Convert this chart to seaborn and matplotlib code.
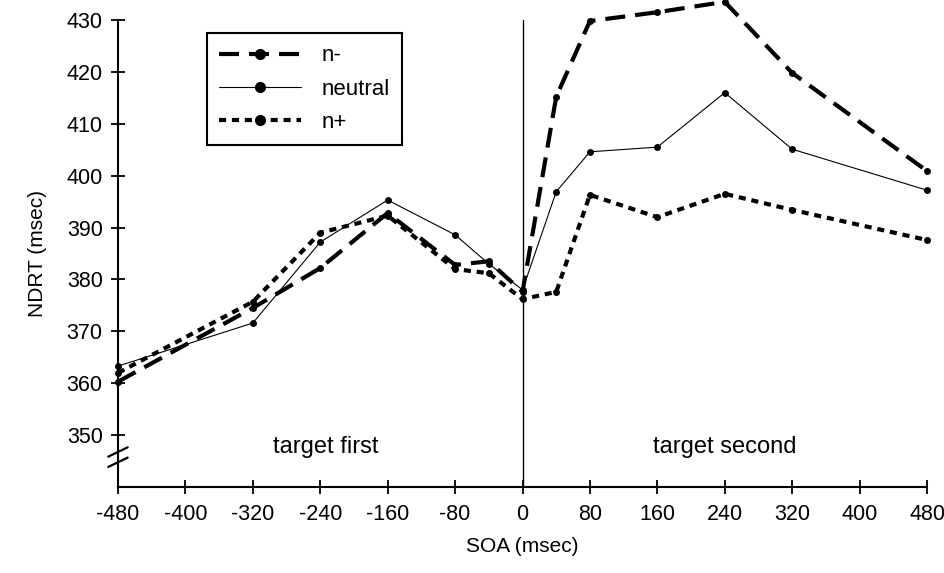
import matplotlib
matplotlib.use("Agg")
import matplotlib.pyplot as plt
import seaborn as sns
import pandas as pd
from matplotlib.lines import Line2D
from matplotlib.legend_handler import HandlerLine2D

# --- veri ---
soa = [-480, -320, -240, -160, -80, -40, 0, 40, 80, 160, 240, 320, 480]
n_minus = [360.3, 374.5, 382.2, 392.8, 382.8, 383.5, 377.6, 415.2, 429.8, 431.5, 433.5, 419.8, 400.9]
neutral = [363.3, 371.6, 387.2, 395.3, 388.6, 383.0, 378.0, 396.9, 404.6, 405.5, 416.0, 405.1, 397.2]
n_plus = [362.0, 375.7, 389.0, 392.3, 382.0, 381.2, 376.2, 377.6, 396.3, 392.0, 396.5, 393.4, 387.6]
conditions = ["n-", "neutral", "n+"]
xticks = [-480, -400, -320, -240, -160, -80, 0, 80, 160, 240, 320, 400, 480]
yticks = [350, 360, 370, 380, 390, 400, 410, 420, 430]

df = pd.DataFrame({
    "SOA": soa * 3,
    "NDRT": n_minus + neutral + n_plus,
    "condition": [c for c in conditions for _ in soa],
})


# --- lejant: nokta çizginin solunda ---
class LeftMarkerHandler(HandlerLine2D):
    def get_xdata(self, legend, xdescent, ydescent, width, height, fontsize):
        xdata, _ = super().get_xdata(legend, xdescent, ydescent, width, height, fontsize)
        return xdata, [xdata[0]]


sns.set_style("ticks")
plt.rcParams["font.family"] = ["Liberation Sans", "DejaVu Sans"]
plt.rcParams["text.color"] = "black"
plt.rcParams["axes.labelcolor"] = "black"

fig = plt.figure(figsize=(9.45, 5.73), dpi=100)
ax = fig.add_axes([118 / 945, 1 - 487 / 573, 809 / 945, 467 / 573])

sns.lineplot(
    data=df, x="SOA", y="NDRT",
    hue="condition", style="condition", size="condition",
    hue_order=conditions, style_order=conditions, size_order=conditions,
    palette={"n-": "black", "neutral": "black", "n+": "black"},
    dashes={"n-": (4.8, 2.4), "neutral": "", "n+": (1.7, 1.4)},
    markers={"n-": "o", "neutral": "o", "n+": "o"},
    sizes={"n-": 3.0, "neutral": 0.8, "n+": 3.0},
    markersize=5, markeredgewidth=0, errorbar=None, clip_on=False, ax=ax,
)

ax.axvline(0, color="black", lw=1.0, zorder=0)

ax.set_xlim(-480, 480)
ax.set_ylim(340, 430)
ax.set_xticks(xticks)
ax.set_yticks(yticks)
ax.set_xticklabels([str(t) for t in xticks])
sns.despine(ax=ax)
for s in ("left", "bottom"):
    ax.spines[s].set_linewidth(1.5)
    ax.spines[s].set_color("black")
ax.tick_params(axis="both", direction="inout", length=10, width=1.3, labelsize=15.5, colors="black")
ax.tick_params(axis="y", pad=6)
ax.tick_params(axis="x", pad=7)

ax.set_xlabel("SOA (msec)", fontsize=15, labelpad=9)
ax.set_ylabel("NDRT (msec)", fontsize=15, labelpad=14)

# y ekseni kırılma işareti
for dy in (0.0, 0.022):
    ax.plot([-0.012, 0.012], [0.043 + dy, 0.063 + dy], transform=ax.transAxes,
            color="black", lw=1.6, clip_on=False)

ax.text(-234, 347.7, "target first", fontsize=17, ha="center", va="center")
ax.text(240, 347.7, "target second", fontsize=17, ha="center", va="center")

handles, labels = ax.get_legend_handles_labels()
for h in handles:
    h.set_markersize(8)
leg = ax.legend(handles, labels, loc="upper left", bbox_to_anchor=(0.110, 0.972),
                borderaxespad=0, fontsize=16, handlelength=3.7, handletextpad=0.9,
                labelspacing=0.55, borderpad=0.55, frameon=True, fancybox=False,
                edgecolor="black", framealpha=1, numpoints=1,
                handler_map={Line2D: LeftMarkerHandler()})
leg.get_frame().set_linewidth(1.5)

fig.savefig("out.png", dpi=100)
